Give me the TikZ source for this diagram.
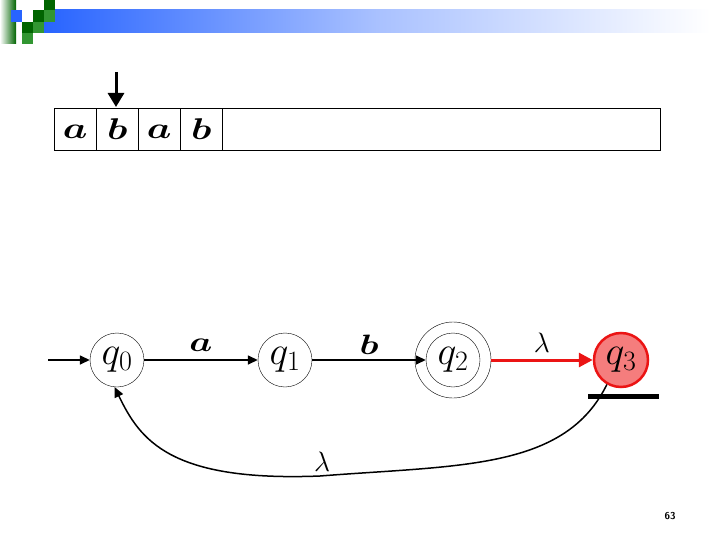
\RequirePackage{fix-cm}
\documentclass[tikz,border=0pt]{standalone}
\usepackage{amsmath,bm,graphicx}
\usetikzlibrary{arrows.meta}
\definecolor{barblue}{RGB}{40,100,255}
\definecolor{dkgreen}{RGB}{0,100,0}
\definecolor{mdgreen}{RGB}{50,150,50}
\definecolor{qred}{RGB}{235,20,20}
\definecolor{qfill}{RGB}{245,125,125}
\newcommand{\wideletter}[1]{\scalebox{1.3}[1]{$\bm{#1}$}}
\tikzset{
  state/.style={circle, draw, thin, minimum size=54pt, inner sep=0pt, font=\fontsize{40}{42}\selectfont},
  trans/.style={-{Triangle[length=10pt,width=9pt]}, line width=1.5pt},
  lbl/.style={font=\fontsize{28}{30}\selectfont, inner sep=0pt},
  tapelbl/.style={font=\fontsize{30}{32}\selectfont, inner sep=0pt},
  cell/.style={draw, thin, minimum width=42pt, minimum height=42pt, inner sep=0pt, anchor=north west}
}
\begin{document}
\begin{tikzpicture}[x=1pt,y=-1pt]
\useasboundingbox (0,0) rectangle (720,540);
% header decoration
\shade[left color=white, right color=dkgreen] (16,0) rectangle (0,44);
\shade[left color=barblue, right color=white, middle color=barblue!40] (44,10) rectangle (710,33);
\fill[barblue] (11,10) rectangle (22,22);
\fill[dkgreen] (44,0) rectangle (55,10);
\fill[dkgreen] (33,10) rectangle (44,22);
\fill[mdgreen] (44,10) rectangle (55,22);
\fill[dkgreen] (22,22) rectangle (33,33);
\fill[mdgreen] (33,22) rectangle (44,33);
\fill[mdgreen] (22,33) rectangle (33,44);
% tape
\draw[thin] (54,108) rectangle (660,150);
\node[cell] (c1) at (54,108) {};
\node[cell] (c2) at (96,108) {};
\node[cell] (c3) at (138,108) {};
\node[cell] (c4) at (180,108) {};
\node[tapelbl] at ([yshift=-3pt]c1.center) {\wideletter{a}};
\node[tapelbl] at (c2.center) {\wideletter{b}};
\node[tapelbl] at ([yshift=-3pt]c3.center) {\wideletter{a}};
\node[tapelbl] at (c4.center) {\wideletter{b}};
\coordinate (headtop) at (116,72);
\draw[line width=3pt, -{Triangle[length=14pt,width=16pt]}] (headtop) -- (116,107);
% states
\node[state] (q0) at (117,360) {$q_0$};
\node[state] (q1) at (285,360) {$q_1$};
\node[state] (q2) at (453,360) {$q_2$};
\draw[thin] (q2) circle (38pt);
\node[state, fill=qfill, draw=qred, line width=2.5pt] (q3) at (621,360) {$q_3$};
\coordinate (init) at (48,360);
\coordinate (q2out) at (491,360);
\draw[trans] (init) -- (q0);
\draw[trans] (q0) -- node[lbl, midway, yshift=15pt] {\wideletter{a}} (q1);
\draw[trans] (q1) -- node[lbl, midway, yshift=15pt] {\wideletter{b}} (q2.west);
\draw[qred, line width=3pt, -{Triangle[length=14pt,width=14pt]}] (q2out) -- node[lbl, midway, yshift=17pt, text=black] {$\lambda$} (q3);
% halt bar
\draw[line width=5pt] (588,396) -- (659,396);
% return arc
\draw[trans] (q3.240) .. controls (565,470) and (460,465) .. (320,476)
  .. controls (170,482) and (140,440) .. (q0.265);
\node[lbl] at (322,462) {$\lambda$};
% page number
\node[font=\sffamily\bfseries\fontsize{10}{12}\selectfont] at (670,516) {63};
\end{tikzpicture}
\end{document}
